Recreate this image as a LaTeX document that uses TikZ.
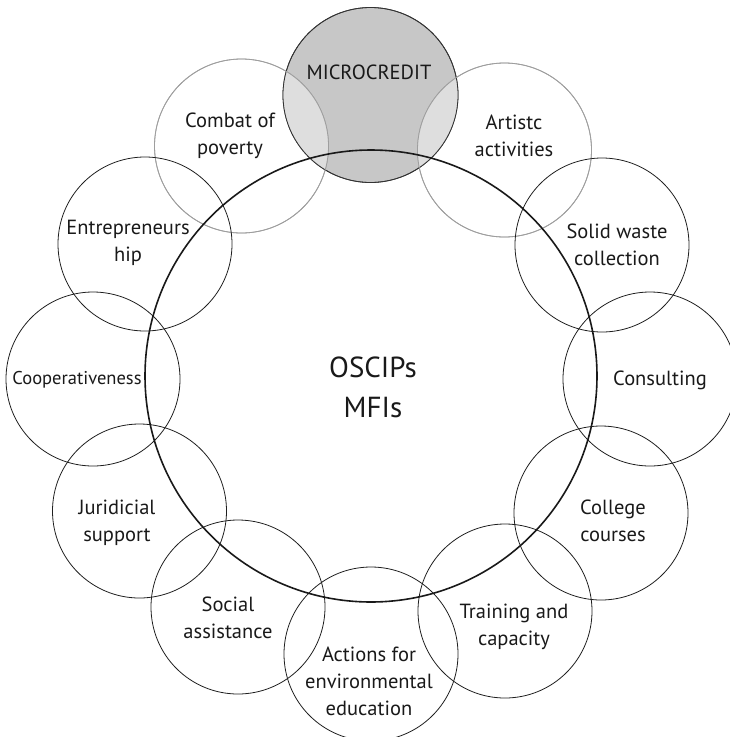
\documentclass[tikz,border=0pt]{standalone}
\usepackage{fontspec}
\setmainfont{PT Sans}
\begin{document}
\begin{tikzpicture}[x=1pt,y=-1pt,
  ring/.style={circle,draw=black!88,line width=0.8pt,minimum size=174pt,inner sep=0pt},
  grayring/.style={circle,draw=black!38,line width=0.8pt,minimum size=174pt,inner sep=0pt},
  hub/.style={circle,draw=black!90,line width=1.6pt,minimum size=452pt,inner sep=0pt},
  lbl/.style={align=center,inner sep=0pt,font=\fontsize{20.5}{27}\selectfont,text=black!90},
  biglbl/.style={align=center,inner sep=0pt,font=\fontsize{29}{40}\selectfont,text=black!90}]
\useasboundingbox (0,0) rectangle (729,737);
% circles
\node[ring,draw=black!80,fill=black!22,minimum size=175pt] (mc) at (370.5,95) {};
\node[grayring] (cp) at (241.5,146) {};
\node[grayring] (aa) at (504.5,150) {};
\begin{scope}
  \clip (370.5,95) circle[radius=87.5];
  \fill[black!13] (cp.center) circle[radius=87];
  \fill[black!13] (aa.center) circle[radius=87];
\end{scope}
\draw[black!80,line width=0.8pt] (mc.center) circle[radius=87.5];
\draw[black!38,line width=0.8pt] (cp.center) circle[radius=87];
\draw[black!38,line width=0.8pt] (aa.center) circle[radius=87];
\node[ring] (sw) at (602,245) {};
\node[ring] (co) at (650,379) {};
\node[ring] (cc) at (601,513) {};
\node[ring] (tc) at (505,611) {};
\node[ring] (ae) at (371,654) {};
\node[ring] (sa) at (238,607) {};
\node[ring] (js) at (139.5,511) {};
\node[ring] (cv) at (93,379) {};
\node[ring] (en) at (145,244) {};
\node[hub] (hub) at (371,376) {};
% labels
\node[lbl] (tmc) at (369,72) {MICROCREDIT};
\node[lbl] (tcp) at (230,136) {Combat of\\poverty};
\node[lbl] (taa) at (514,136) {Artistc\\activities};
\node[lbl] (tsw) at (617,245) {Solid waste\\collection};
\node[lbl] (tco) at (660,380) {Consulting};
\node[lbl] (tcc) at (613,521) {College\\courses};
\node[lbl] (ttc) at (514,627) {Training and\\capacity};
\node[lbl] (tae) at (369,681) {Actions for\\environmental\\education};
\node[lbl] (tsa) at (228,618) {Social\\assistance};
\node[lbl] (tjs) at (117,523) {Juridicial\\support};
\node[lbl,font=\fontsize{18.5}{22}\selectfont] (tcv) at (77,380) {Cooperativeness};
\node[lbl] (ten) at (128,243) {Entrepreneurs\\hip};
\node[biglbl] (thub) at (373,387) {OSCIPs\\MFIs};
\end{tikzpicture}
\end{document}
